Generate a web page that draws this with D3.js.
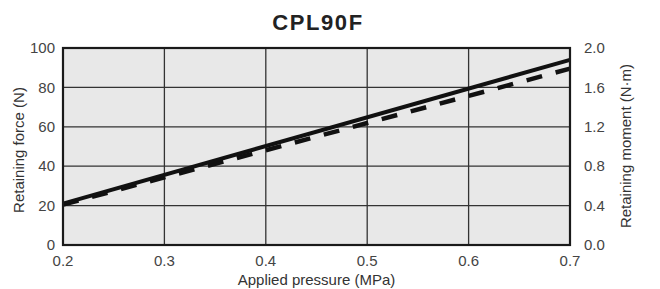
<!DOCTYPE html>
<html>
<head>
<meta charset="utf-8">
<script src="https://cdn.jsdelivr.net/npm/d3@7"></script>
<style>
  body { margin: 0; background: #fff; }
  svg text { font-family: "Liberation Sans", Arial, sans-serif; }
</style>
</head>
<body>
<svg id="chart" width="660" height="289"></svg>
<script>
// pressure (MPa) on x
const pressure = [0.2, 0.7];
// retaining force (N), solid line, left axis
const force = [21, 94];
// retaining moment (N·m), dashed line, right axis
const moment = [0.41, 1.79];

const xTicks = [0.2, 0.3, 0.4, 0.5, 0.6, 0.7];
const yLeftTicks = [0, 20, 40, 60, 80, 100];
const yRightTicks = [0, 0.4, 0.8, 1.2, 1.6, 2.0];

const margin = { top: 48, right: 90, bottom: 44, left: 63 };
const width = 660 - margin.left - margin.right;
const height = 289 - margin.top - margin.bottom;

const svg = d3.select('#chart');
const g = svg.append('g').attr('transform', `translate(${margin.left},${margin.top})`);

const x = d3.scaleLinear().domain([0.2, 0.7]).range([0, width]);
const yL = d3.scaleLinear().domain([0, 100]).range([height, 0]);
const yR = d3.scaleLinear().domain([0, 2]).range([height, 0]);

// plot background
g.append('rect')
  .attr('width', width)
  .attr('height', height)
  .attr('fill', '#e8e8e8');

// grid
g.selectAll('.vgrid')
  .data(xTicks.slice(1, -1))
  .enter().append('line')
  .attr('x1', d => x(d)).attr('x2', d => x(d))
  .attr('y1', 0).attr('y2', height)
  .attr('stroke', '#333').attr('stroke-width', 1.3);

g.selectAll('.hgrid')
  .data(yLeftTicks.slice(1, -1))
  .enter().append('line')
  .attr('x1', 0).attr('x2', width)
  .attr('y1', d => yL(d)).attr('y2', d => yL(d))
  .attr('stroke', '#333').attr('stroke-width', 1.3);

// lines
const solid = d3.line()
  .x((d, i) => x(pressure[i]))
  .y(d => yL(d));
const dashed = d3.line()
  .x((d, i) => x(pressure[i]))
  .y(d => yR(d));

g.append('path')
  .datum(moment)
  .attr('d', dashed)
  .attr('fill', 'none')
  .attr('stroke', '#111')
  .attr('stroke-width', 4.5)
  .attr('stroke-dasharray', '16,14');

g.append('path')
  .datum(force)
  .attr('d', solid)
  .attr('fill', 'none')
  .attr('stroke', '#111')
  .attr('stroke-width', 4);

// frame
g.append('rect')
  .attr('width', width)
  .attr('height', height)
  .attr('fill', 'none')
  .attr('stroke', '#1a1a1a')
  .attr('stroke-width', 2.2);

// tick labels
const tickColor = '#444';
g.selectAll('.xlab')
  .data(xTicks)
  .enter().append('text')
  .attr('x', d => x(d))
  .attr('y', height + 21)
  .attr('text-anchor', 'middle')
  .attr('font-size', 15)
  .attr('fill', tickColor)
  .text(d => d3.format('.1f')(d));

g.selectAll('.ylab')
  .data(yLeftTicks)
  .enter().append('text')
  .attr('x', -8)
  .attr('y', d => yL(d))
  .attr('dy', '0.35em')
  .attr('text-anchor', 'end')
  .attr('font-size', 15)
  .attr('fill', tickColor)
  .text(d => d);

g.selectAll('.yrlab')
  .data(yRightTicks)
  .enter().append('text')
  .attr('x', width + 14)
  .attr('y', d => yR(d))
  .attr('dy', '0.35em')
  .attr('text-anchor', 'start')
  .attr('font-size', 15)
  .attr('fill', tickColor)
  .text(d => d3.format('.1f')(d));

// axis titles
svg.append('text')
  .attr('x', 316.5)
  .attr('y', 285)
  .attr('text-anchor', 'middle')
  .attr('font-size', 15)
  .attr('fill', '#333')
  .text('Applied pressure (MPa)');

svg.append('text')
  .attr('transform', 'translate(23.5,150) rotate(-90)')
  .attr('text-anchor', 'middle')
  .attr('font-size', 15)
  .attr('fill', '#333')
  .text('Retaining force (N)');

svg.append('text')
  .attr('transform', 'translate(631,146) rotate(-90)')
  .attr('text-anchor', 'middle')
  .attr('font-size', 15)
  .attr('fill', '#333')
  .text('Retaining moment (N·m)');

// title
svg.append('text')
  .attr('x', 318)
  .attr('y', 29.5)
  .attr('text-anchor', 'middle')
  .attr('font-size', 22)
  .attr('font-weight', 'bold')
  .attr('letter-spacing', 1.6)
  .attr('fill', '#222')
  .text('CPL90F');
</script>
</body>
</html>
